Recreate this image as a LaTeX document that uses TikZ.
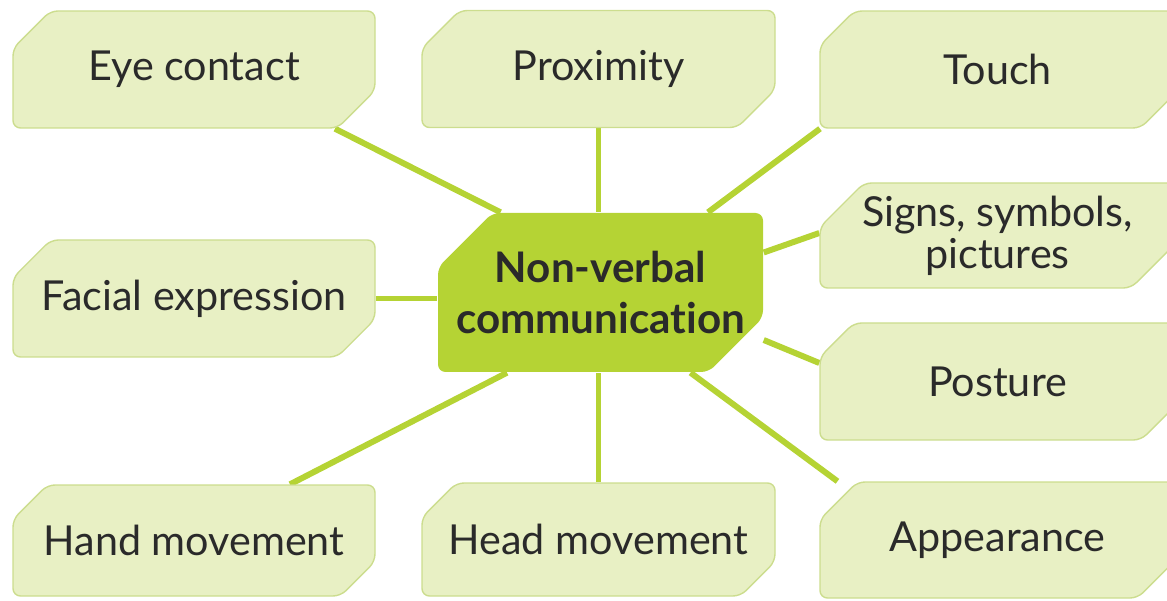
\documentclass[tikz,border=0pt]{standalone}
\usepackage{fontspec}
\setmainfont{Lato}[Ligatures=NoCommon]
\usetikzlibrary{shapes.misc,backgrounds}
\definecolor{leafgreen}{HTML}{B5D334}
\definecolor{palegreen}{HTML}{E8F0C4}
\definecolor{edgegreen}{HTML}{CCDD8E}
\definecolor{inkgrey}{HTML}{2A2A2A}
\begin{document}
\begin{tikzpicture}[
  topic/.style={chamfered rectangle, chamfered rectangle corners={north west,south east},
    chamfered rectangle xsep=0.5cm, chamfered rectangle ysep=0.38cm, rounded corners=1.5mm,
    draw=edgegreen, line width=0.8pt, fill=palegreen, text=inkgrey, inner sep=0pt,
    align=center, font=\fontsize{23.5}{24}\selectfont},
  hub/.style={topic, draw=none, fill=leafgreen, chamfered rectangle xsep=0.62cm,
    chamfered rectangle ysep=0.55cm, inner xsep=-0.5cm, inner ysep=-0.3cm,
    font=\bfseries\fontsize{24}{29.5}\selectfont},
  link/.style={leafgreen, line width=3.4pt}]
\useasboundingbox (0,0) rectangle (23.34,12);
\node[hub, minimum width=6.5cm, minimum height=3.18cm] (nvc) at (12.01,6.15) {Non-verbal\\communication};
\node[topic, minimum width=7.24cm, minimum height=2.34cm] (eye) at (3.88,10.61) {Eye contact};
\node[topic, minimum width=7.06cm, minimum height=2.34cm] (prox) at (11.97,10.62) {Proximity};
\node[topic, minimum width=7.1cm, minimum height=2.34cm] (touch) at (19.95,10.61) {Touch};
\node[topic, minimum width=7.1cm, minimum height=2.1cm, inner ysep=-0.2cm] (signs) at (19.95,7.29) {Signs, symbols,\\pictures};
\node[topic, minimum width=7.24cm, minimum height=2.34cm] (face) at (3.88,6.03) {Facial expression};
\node[topic, minimum width=7.1cm, minimum height=2.34cm] (posture) at (19.95,4.37) {Posture};
\node[topic, minimum width=7.24cm, minimum height=2.22cm] (hand) at (3.88,1.19) {Hand movement};
\node[topic, minimum width=7.06cm, minimum height=2.26cm] (head) at (11.97,1.21) {Head movement};
\node[topic, minimum width=7.1cm, minimum height=2.32cm] (look) at (19.95,1.2) {Appearance};
\begin{scope}[on background layer]
\draw[link] ([xshift=2.82cm]eye.south) -- ([xshift=-2cm]nvc.north);
\draw[link] (prox.south) -- (prox.south |- nvc.north);
\draw[link] ([xshift=-3.55cm]touch.south) -- ([xshift=2.15cm]nvc.north);
\draw[link] ([yshift=0.05cm]signs.west) -- ([yshift=0.8cm]nvc.east);
\draw[link] (face.east) -- (face.east -| nvc.west);
\draw[link] ([yshift=0.37cm]posture.west) -- ([yshift=-0.95cm]nvc.east);
\draw[link] ([xshift=1.92cm]hand.north) -- ([xshift=-1.87cm]nvc.south);
\draw[link] (head.north) -- (head.north |- nvc.south);
\draw[link] ([xshift=-3.2cm]look.north) -- ([xshift=1.8cm]nvc.south);
\end{scope}
\end{tikzpicture}
\end{document}
